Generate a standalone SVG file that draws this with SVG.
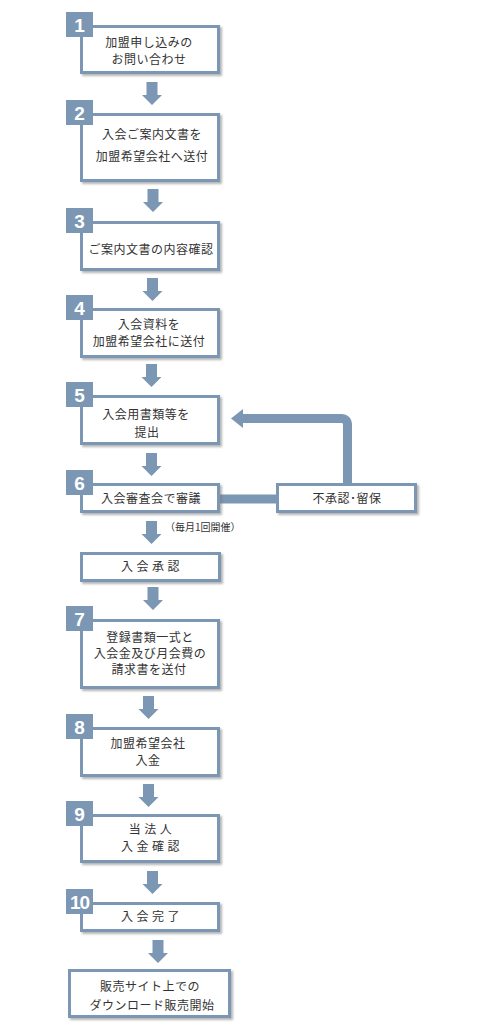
<svg xmlns="http://www.w3.org/2000/svg" width="480" height="1036" viewBox="0 0 480 1036">
<defs>
<filter id="sh" x="-10%" y="-10%" width="130%" height="140%">
<feDropShadow dx="2" dy="2" stdDeviation="1.3" flood-color="#777" flood-opacity="0.55"/>
</filter>
<path id="arr" d="M-5.5,0 H5.5 V13 H10 L0,23 L-10,13 H-5.5 Z"/>
</defs>
<style>
.box{fill:#fff;stroke:#7b97b4;stroke-width:3;filter:url(#sh)}
.badge{fill:#7b97b4}
.num{font-family:"Liberation Sans",Arial,sans-serif;font-weight:bold;font-size:19px;fill:#fff;text-anchor:middle}
.t{font-family:"Noto Sans CJK JP","Noto Sans",sans-serif;font-size:12px;fill:#333;text-anchor:middle;letter-spacing:0.5px}
.w{letter-spacing:3.5px}
.s{font-family:"Noto Sans CJK JP","Noto Sans",sans-serif;font-size:10px;fill:#333}
.a{fill:#7b97b4}
.ln{fill:none;stroke:#7b97b4;stroke-width:9}
</style>
<rect width="480" height="1036" fill="#fff"/>

<g id="connectors">
<use href="#arr" class="a" x="152" y="82"/>
<use href="#arr" class="a" x="153" y="189"/>
<use href="#arr" class="a" x="152.5" y="278"/>
<use href="#arr" class="a" x="151.5" y="364"/>
<use href="#arr" class="a" x="151.5" y="453"/>
<use href="#arr" class="a" x="151.5" y="521"/>
<use href="#arr" class="a" x="153" y="587"/>
<use href="#arr" class="a" x="148.5" y="696"/>
<use href="#arr" class="a" x="148.5" y="784"/>
<use href="#arr" class="a" x="152.5" y="871"/>
<use href="#arr" class="a" x="158" y="940"/>
<line class="ln" x1="220" y1="499" x2="276" y2="499"/>
<path class="ln" d="M347.5,483 V425 Q347.5,418.5 341,418.5 H240"/>
<path class="a" d="M231,418.5 L243,409 L243,428 Z"/>
</g>

<g id="n1">
<rect class="box" x="81.5" y="26.5" width="137" height="46"/>
<rect class="badge" x="66" y="12" width="27" height="25"/>
<text class="num" x="79.5" y="32">1</text>
<text class="t" x="149" y="47">加盟申し込みの</text>
<text class="t" x="149" y="64">お問い合わせ</text>
</g>
<g id="n2">
<rect class="box" x="81.5" y="114.5" width="137" height="66"/>
<rect class="badge" x="66" y="100" width="27" height="25"/>
<text class="num" x="79.5" y="120">2</text>
<text class="t" x="152" y="139">入会ご案内文書を</text>
<text class="t" x="152" y="161">加盟希望会社へ送付</text>
</g>
<g id="n3">
<rect class="box" x="81.5" y="222.5" width="137" height="47"/>
<rect class="badge" x="66" y="208" width="27" height="25"/>
<text class="num" x="79.5" y="228">3</text>
<text class="t" x="151" y="254">ご案内文書の内容確認</text>
</g>
<g id="n4">
<rect class="box" x="81.5" y="309.5" width="137" height="47"/>
<rect class="badge" x="66" y="295" width="27" height="25"/>
<text class="num" x="79.5" y="315">4</text>
<text class="t" x="149" y="329">入会資料を</text>
<text class="t" x="149" y="346">加盟希望会社に送付</text>
</g>
<g id="n5">
<rect class="box" x="81.5" y="396.5" width="137" height="47"/>
<rect class="badge" x="66" y="382" width="27" height="25"/>
<text class="num" x="79.5" y="402">5</text>
<text class="t" x="146" y="419">入会用書類等を</text>
<text class="t" x="147" y="437">提出</text>
</g>
<g id="n6">
<rect class="box" x="81.5" y="484.5" width="137" height="27"/>
<rect class="badge" x="66" y="470" width="27" height="25"/>
<text class="num" x="79.5" y="490">6</text>
<text class="t" x="151" y="503">入会審査会で審議</text>
</g>
<g id="reject">
<rect class="box" x="277.5" y="484.5" width="138" height="27"/>
<text class="t" x="347" y="503">不承認･留保</text>
</g>
<g id="note">
<text class="s" x="165" y="531">（毎月1回開催）</text>
</g>
<g id="approve">
<rect class="box" x="81.5" y="553.5" width="138" height="27"/>
<text class="t w" x="152" y="571">入会承認</text>
</g>
<g id="n7">
<rect class="box" x="81.5" y="620.5" width="137" height="67"/>
<rect class="badge" x="66" y="606" width="27" height="25"/>
<text class="num" x="79.5" y="626">7</text>
<text class="t" x="150" y="642">登録書類一式と</text>
<text class="t" x="150" y="658">入会金及び月会費の</text>
<text class="t" x="149" y="674">請求書を送付</text>
</g>
<g id="n8">
<rect class="box" x="81.5" y="728.5" width="137" height="47"/>
<rect class="badge" x="66" y="714" width="27" height="25"/>
<text class="num" x="79.5" y="734">8</text>
<text class="t" x="148" y="748">加盟希望会社</text>
<text class="t" x="148" y="765">入金</text>
</g>
<g id="n9">
<rect class="box" x="81.5" y="815.5" width="137" height="46"/>
<rect class="badge" x="66" y="801" width="27" height="25"/>
<text class="num" x="79.5" y="821">9</text>
<text class="t w" x="152" y="834">当法人</text>
<text class="t w" x="152" y="851">入金確認</text>
</g>
<g id="n10">
<rect class="box" x="81.5" y="903.5" width="137" height="27"/>
<rect class="badge" x="66" y="889" width="27" height="25"/>
<text class="num" x="79.5" y="909" style="letter-spacing:-1px">10</text>
<text class="t w" x="152" y="921">入会完了</text>
</g>
<g id="final">
<rect class="box" x="69.5" y="970.5" width="160" height="46"/>
<text class="t" x="150" y="991">販売サイト上での</text>
<text class="t" x="152" y="1010">ダウンロード販売開始</text>
</g>
</svg>
